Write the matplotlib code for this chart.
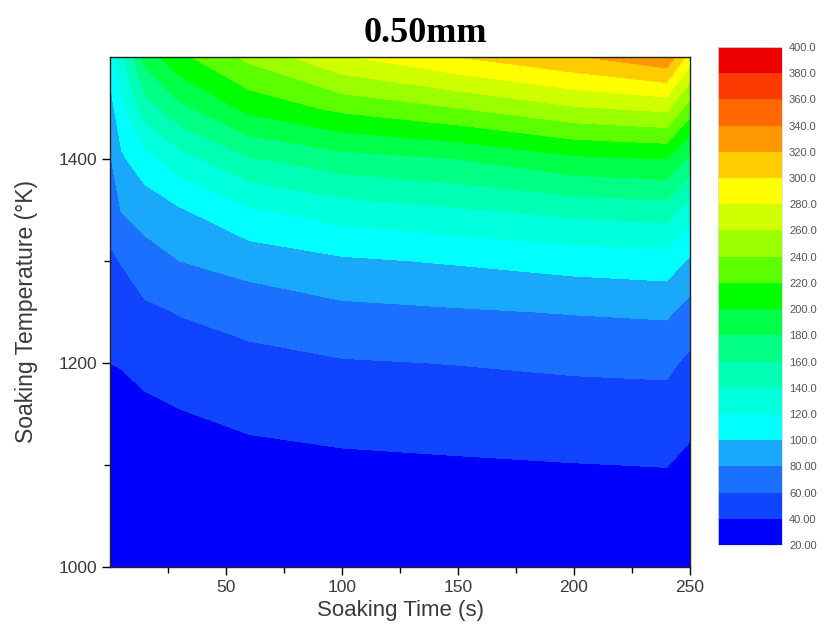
import numpy as np
import matplotlib
matplotlib.use("Agg")
import matplotlib.pyplot as plt
from matplotlib.colors import ListedColormap, BoundaryNorm

plt.rcParams["font.family"] = ["Liberation Sans", "DejaVu Sans"]

# soaking time (s) and soaking temperature (K) of the grid
TIME = [0, 5, 15, 30, 60, 100, 150, 200, 240, 250]
TEMP = [1000, 1050, 1100, 1150, 1200, 1250, 1300, 1350, 1400, 1450, 1500]

# response value along temperature, one list per soaking time
G_000 = [20.2, 23.0, 27.0, 33.0, 40.0, 48.0, 57.0, 67.0, 78.0, 92.0, 108.0]
G_005 = [20.5, 23.0, 27.0, 33.0, 41.0, 50.0, 61.0, 81.0, 97.0, 115.0, 135.0]
G_015 = [20.5, 24.0, 29.0, 36.0, 45.0, 56.0, 72.0, 88.0, 112.0, 150.0, 188.0]
G_030 = [21.0, 25.5, 31.0, 39.0, 49.0, 61.0, 80.0, 98.0, 132.0, 175.0, 215.0]
G_060 = [21.0, 27.0, 34.0, 44.0, 54.0, 68.0, 88.0, 118.0, 158.0, 206.0, 245.0]
G_100 = [21.5, 28.0, 36.5, 47.0, 58.5, 75.0, 97.0, 130.0, 172.0, 225.0, 278.0]
G_150 = [22.0, 29.0, 38.0, 49.0, 60.5, 78.0, 102.0, 138.0, 180.0, 240.0, 300.0]
G_200 = [22.0, 30.0, 39.5, 51.0, 63.0, 81.0, 108.0, 146.0, 196.0, 258.0, 318.0]
G_240 = [22.0, 30.0, 40.5, 52.0, 64.0, 83.0, 111.0, 150.0, 200.0, 265.0, 335.0]
G_250 = [21.0, 27.0, 35.0, 46.0, 56.0, 72.0, 97.0, 130.0, 175.0, 230.0, 290.0]

LEVELS = np.arange(20, 401, 20)
BAND_COLORS = [
    "#0000ff", "#1044ff", "#1c70ff", "#1aa8fa", "#00ffff",
    "#00ffdc", "#00ffb4", "#00ff84", "#00ff48", "#00ff00",
    "#5cff00", "#9cff00", "#d0ff00", "#ffff00", "#ffcc00",
    "#ff9800", "#ff6800", "#ff3a00", "#ee0000",
]

grid = np.column_stack([G_000, G_005, G_015, G_030, G_060,
                        G_100, G_150, G_200, G_240, G_250])
tt, kk = np.meshgrid(TIME, TEMP)

cmap = ListedColormap(BAND_COLORS)
norm = BoundaryNorm(LEVELS, cmap.N)

fig = plt.figure(figsize=(8.24, 6.44), dpi=100)
ax = fig.add_axes([0.1335, 0.1196, 0.7039, 0.7919])
cax = fig.add_axes([0.8714, 0.1537, 0.0777, 0.7733])

cs = ax.contourf(tt, kk, grid, levels=LEVELS, cmap=cmap, norm=norm)

ax.set_xlim(0, 250)
ax.set_ylim(1000, 1500)
ax.set_xticks([50, 100, 150, 200, 250])
ax.set_xticks([25, 75, 125, 175, 225], minor=True)
ax.set_yticks([1000, 1200, 1400])
ax.set_yticks([1100, 1300], minor=True)
ax.tick_params(which="major", direction="out", length=6, width=1,
               labelsize=12.5, labelcolor="#3a3a3a")
ax.tick_params(which="minor", direction="out", length=4, width=1)
for sp in ax.spines.values():
    sp.set_linewidth(1.0)
    sp.set_color("#222222")

ax.set_xlabel("Soaking Time (s)", fontsize=16, color="#3a3a3a")
ax.set_ylabel("Soaking Temperature (\u00b0K)", fontsize=16.5, color="#3a3a3a")
ax.xaxis.set_label_coords(0.5, -0.064)
ax.yaxis.set_label_coords(-0.124, 0.5)

fig.text(0.516, 0.948, "0.50mm", ha="center", va="center",
         fontsize=26, fontweight="bold", family="Liberation Serif")

cb = fig.colorbar(cs, cax=cax, ticks=LEVELS)
cb.outline.set_linewidth(0.6)
cb.outline.set_edgecolor("#dddddd")
cb.ax.tick_params(length=0, pad=5, labelsize=8, labelcolor="#555555")
cb.ax.set_yticklabels([f"{v:.1f}" if v >= 100 else f"{v:.2f}" for v in LEVELS])

fig.savefig("out.png", dpi=100, facecolor="white")
